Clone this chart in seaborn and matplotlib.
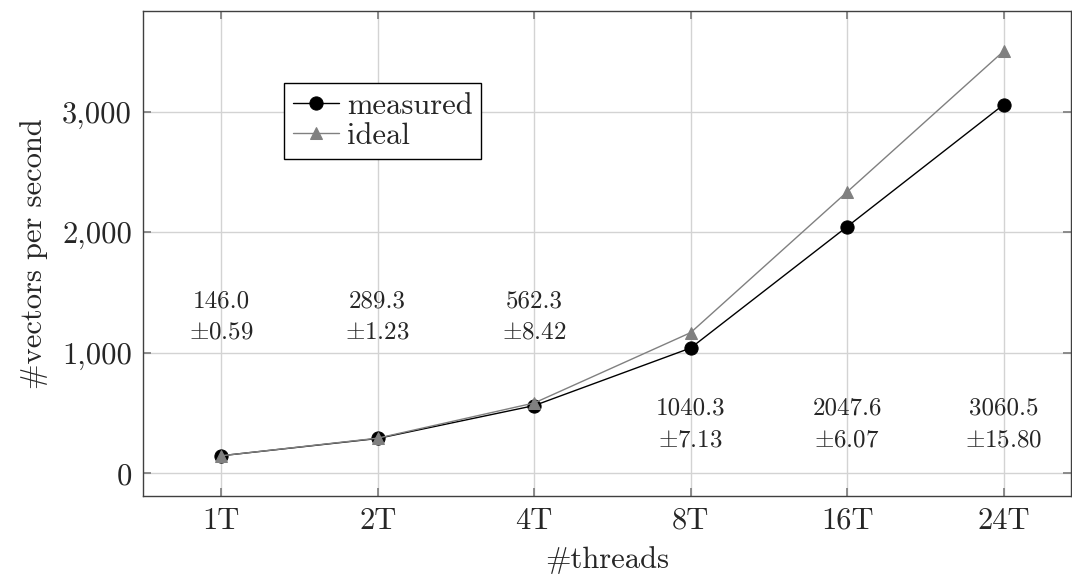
import matplotlib
matplotlib.use('Agg')
import matplotlib.pyplot as plt
import matplotlib.ticker as mticker
import seaborn as sns
import pandas as pd

threads = ['1T', '2T', '4T', '8T', '16T', '24T']
measured = [146.0, 289.3, 562.3, 1040.3, 2047.6, 3060.5]
ideal = [146, 292, 584, 1168, 2336, 3504]
stdev = ['0.59', '1.23', '8.42', '7.13', '6.07', '15.80']
label_y = [1298, 1298, 1298, 405, 405, 405]

sns.set_theme(style='whitegrid')
plt.rcParams['font.family'] = ['cmr10', 'DejaVu Serif']
plt.rcParams['mathtext.fontset'] = 'cm'
plt.rcParams['axes.formatter.use_mathtext'] = True

df = pd.DataFrame({'threads': threads, 'measured': measured, 'ideal': ideal})

fig = plt.figure(figsize=(10.72, 5.78), dpi=100)
ax = fig.add_axes([0.1334, 0.1419, 0.8656, 0.8396])

sns.lineplot(data=df, x='threads', y='measured', ax=ax, color='black', lw=1.0,
             marker='o', markersize=9.5, markeredgecolor='black', label='measured', sort=False)
sns.lineplot(data=df, x='threads', y='ideal', ax=ax, color='#808080', lw=1.0,
             marker='^', markersize=8, markeredgecolor='#808080', label='ideal', sort=False)

# mean and stdev labels
for i, (m, s, ly) in enumerate(zip(measured, stdev, label_y)):
    ax.text(i, ly + 130, f'{m:.1f}', ha='center', va='center', fontsize=18)
    ax.text(i, ly - 130, r'$\pm$' + s, ha='center', va='center', fontsize=18)

ax.set_xlim(-0.5, 5.43)
ax.set_ylim(-188, 3840)
ax.set_yticks([0, 1000, 2000, 3000])
ax.yaxis.set_major_formatter(mticker.FuncFormatter(lambda v, p: f'{int(v):,}'))
ax.grid(True, color='#d3d3d3', lw=1.0)
for sp in ax.spines.values():
    sp.set_color('#404040')
    sp.set_linewidth(1.0)
ax.tick_params(axis='both', which='major', direction='in', length=6, color='#808080',
               labelsize=22, top=True, right=True, bottom=True, left=True, pad=8)

ax.set_xlabel('#threads', fontsize=22, labelpad=8)
ax.set_ylabel('#vectors per second', fontsize=22, labelpad=10)

leg = ax.legend(loc='upper left', bbox_to_anchor=(0.152, 0.851), fontsize=22,
                frameon=True, fancybox=False, edgecolor='black', framealpha=1,
                handlelength=1.5, handletextpad=0.25, borderpad=0.3, labelspacing=0.1,
                borderaxespad=0)
leg.get_frame().set_linewidth(1.0)

fig.savefig('out.png', dpi=100)
